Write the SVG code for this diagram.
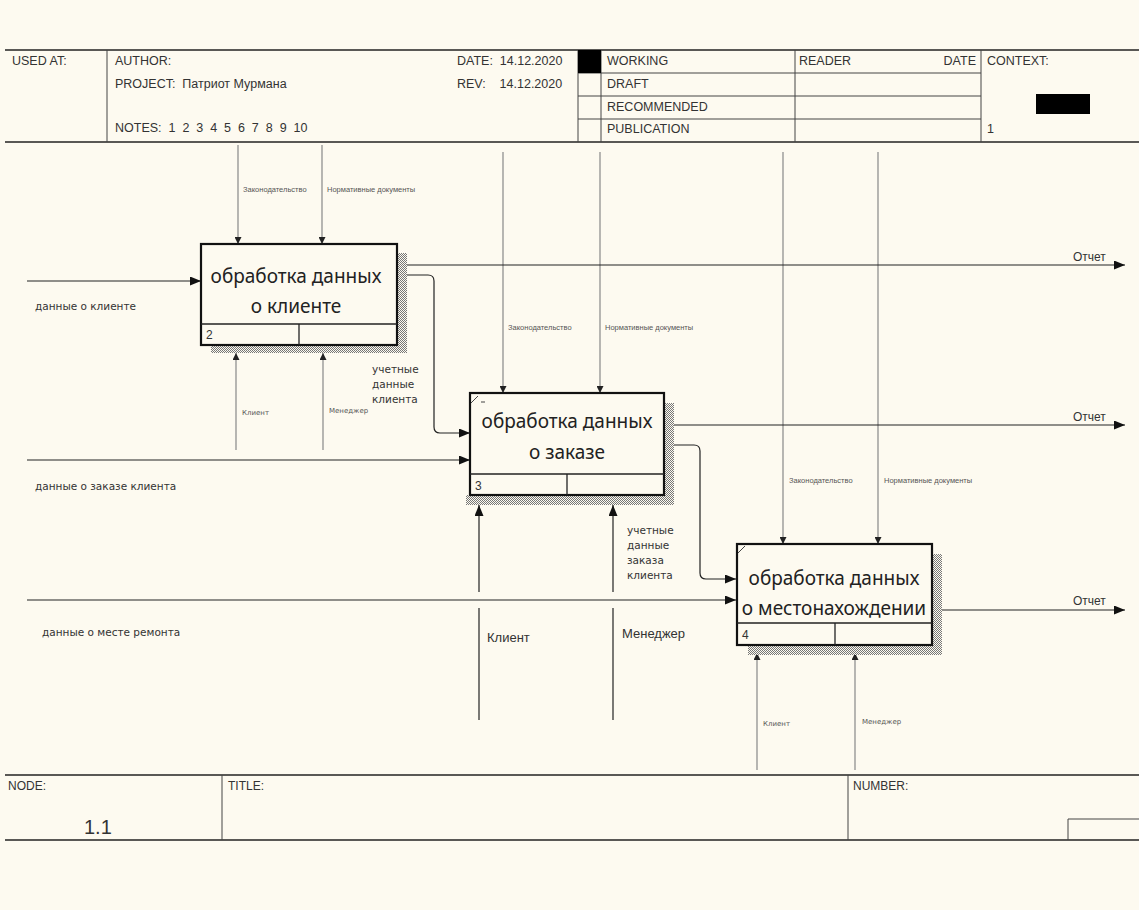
<svg xmlns="http://www.w3.org/2000/svg" width="1139" height="910" viewBox="0 0 1139 910">
  <style>
    .frame { stroke: #222; stroke-width: 1.3; fill: none; }
    .thin { stroke: #444; stroke-width: 1; fill: none; }
    .hdr { font-family: "Liberation Sans", Arial, sans-serif; font-size: 12.5px; fill: #333; white-space: pre; }
    .ftr { font-family: "Liberation Sans", Arial, sans-serif; font-size: 12px; fill: #333; }
    .big { font-family: "Liberation Sans", Arial, sans-serif; font-size: 20px; fill: #333; }
    .box { fill: #fdfaf0; stroke: #111; stroke-width: 2.2; }
    .title { font-family: "Noto Sans", "DejaVu Sans", sans-serif; font-size: 19px; fill: #222; text-anchor: middle; }
    .num { font-family: "Liberation Sans", Arial, sans-serif; font-size: 12px; fill: #333; }
    .flow { stroke: #222; stroke-width: 1.2; fill: none; }
    .ctl { stroke: #888; stroke-width: 1.2; fill: none; }
    .tiny { font-family: "Liberation Sans", Arial, sans-serif; font-size: 7.5px; fill: #555; }
    .tiny2 { font-family: "DejaVu Sans", Verdana, sans-serif; font-size: 7px; fill: #555; }
    .lbl { font-family: "DejaVu Sans", Verdana, sans-serif; font-size: 10.5px; fill: #333; }
    .mid { font-family: "Liberation Sans", Arial, sans-serif; font-size: 13px; fill: #333; }
    .out { font-family: "Liberation Sans", Arial, sans-serif; font-size: 12px; fill: #333; }
  </style>
  <defs>
    <pattern id="hatch" width="2" height="2" patternUnits="userSpaceOnUse">
      <rect width="2" height="2" fill="#fdfaf0"/>
      <rect width="1" height="1" fill="#777"/>
      <rect x="1" y="1" width="1" height="1" fill="#777"/>
    </pattern>
    <marker id="arr" markerUnits="userSpaceOnUse" markerWidth="11" markerHeight="9" refX="11" refY="4.5" orient="auto">
      <path d="M0,0 L11,4.5 L0,9 z" fill="#111"/>
    </marker>
    <marker id="arrS" markerUnits="userSpaceOnUse" markerWidth="7" markerHeight="7" refX="7" refY="3.5" orient="auto">
      <path d="M0,0 L7,3.5 L0,7 z" fill="#222"/>
    </marker>
  </defs>

  <rect width="1139" height="910" fill="#fdfaf0"/>

  <!-- header frame -->
  <g id="header">
    <line class="frame" x1="5" y1="50" x2="1139" y2="50"/>
    <line class="frame" x1="5" y1="142" x2="1139" y2="142"/>
    <line class="thin" x1="107" y1="50" x2="107" y2="142"/>
    <line class="thin" x1="578" y1="50" x2="578" y2="142"/>
    <line class="thin" x1="601" y1="50" x2="601" y2="142"/>
    <line class="thin" x1="795" y1="50" x2="795" y2="142"/>
    <line class="thin" x1="981" y1="50" x2="981" y2="142"/>
    <line class="thin" x1="578" y1="73" x2="981" y2="73"/>
    <line class="thin" x1="578" y1="96" x2="981" y2="96"/>
    <line class="thin" x1="578" y1="119" x2="981" y2="119"/>
    <rect x="578" y="50" width="23" height="23" fill="#000"/>
    <rect x="1036" y="94" width="54" height="20" fill="#000"/>
    <text class="hdr" x="12" y="65">USED AT:</text>
    <text class="hdr" x="115" y="65">AUTHOR:</text>
    <text class="hdr" x="115" y="88">PROJECT:  Патриот Мурмана</text>
    <text class="hdr" x="115" y="132">NOTES:  1  2  3  4  5  6  7  8  9  10</text>
    <text class="hdr" x="457" y="65">DATE:  14.12.2020</text>
    <text class="hdr" x="457" y="88">REV:    14.12.2020</text>
    <text class="hdr" x="607" y="65">WORKING</text>
    <text class="hdr" x="607" y="88">DRAFT</text>
    <text class="hdr" x="607" y="111">RECOMMENDED</text>
    <text class="hdr" x="607" y="133">PUBLICATION</text>
    <text class="hdr" x="799" y="65">READER</text>
    <text class="hdr" x="976" y="65" text-anchor="end">DATE</text>
    <text class="hdr" x="987" y="65">CONTEXT:</text>
    <text class="hdr" x="987" y="133">1</text>
  </g>

  <!-- footer frame -->
  <g id="footer">
    <line class="frame" x1="5" y1="775" x2="1139" y2="775"/>
    <line class="frame" x1="5" y1="840" x2="1139" y2="840"/>
    <line class="thin" x1="222" y1="775" x2="222" y2="840"/>
    <line class="thin" x1="848" y1="775" x2="848" y2="840"/>
    <polyline class="thin" points="1068,840 1068,819 1139,819"/>
    <text class="ftr" x="8" y="790">NODE:</text>
    <text class="ftr" x="228" y="790">TITLE:</text>
    <text class="ftr" x="853" y="790">NUMBER:</text>
    <text class="big" x="84" y="834">1.1</text>
  </g>

  <!-- connectors -->
  <g id="connectors">
    <!-- controls -->
    <line class="ctl" x1="238" y1="145" x2="238" y2="244" marker-end="url(#arrS)"/>
    <line class="ctl" x1="322" y1="145" x2="322" y2="244" marker-end="url(#arrS)"/>
    <line class="ctl" x1="503" y1="152" x2="503" y2="393" marker-end="url(#arrS)"/>
    <line class="ctl" x1="600" y1="152" x2="600" y2="393" marker-end="url(#arrS)"/>
    <line class="ctl" x1="783" y1="152" x2="783" y2="544" marker-end="url(#arrS)"/>
    <line class="ctl" x1="878" y1="152" x2="878" y2="544" marker-end="url(#arrS)"/>
    <text class="tiny" x="243" y="192">Законодательство</text>
    <text class="tiny" x="327" y="192">Нормативные документы</text>
    <text class="tiny" x="508" y="330">Законодательство</text>
    <text class="tiny" x="605" y="330">Нормативные документы</text>
    <text class="tiny" x="789" y="483">Законодательство</text>
    <text class="tiny" x="884" y="483">Нормативные документы</text>

    <!-- mechanisms -->
    <line class="ctl" x1="236" y1="450" x2="236" y2="353" marker-end="url(#arrS)"/>
    <line class="ctl" x1="323" y1="450" x2="323" y2="353" marker-end="url(#arrS)"/>
    <text class="tiny2" x="242" y="415">Клиент</text>
    <text class="tiny2" x="329" y="413">Менеджер</text>
    <line class="flow" x1="479" y1="720" x2="479" y2="608"/>
    <line class="flow" x1="479" y1="592" x2="479" y2="505" marker-end="url(#arr)"/>
    <line class="flow" x1="613" y1="720" x2="613" y2="608"/>
    <line class="flow" x1="613" y1="592" x2="613" y2="505" marker-end="url(#arr)"/>
    <text class="mid" x="487" y="642">Клиент</text>
    <text class="mid" x="622" y="638">Менеджер</text>
    <line class="ctl" x1="757" y1="770" x2="757" y2="653" marker-end="url(#arrS)"/>
    <line class="ctl" x1="855" y1="770" x2="855" y2="653" marker-end="url(#arrS)"/>
    <text class="tiny2" x="763" y="726">Клиент</text>
    <text class="tiny2" x="862" y="724">Менеджер</text>

    <!-- inputs -->
    <line class="flow" x1="27" y1="281" x2="201" y2="281" marker-end="url(#arr)"/>
    <line class="flow" x1="27" y1="460" x2="470" y2="460" marker-end="url(#arr)"/>
    <line class="flow" x1="27" y1="600" x2="736" y2="600" marker-end="url(#arr)"/>
    <text class="lbl" x="35" y="310">данные о клиенте</text>
    <text class="lbl" x="35" y="490">данные о заказе клиента</text>
    <text class="lbl" x="42" y="636">данные о месте ремонта</text>

    <!-- outputs -->
    <line class="flow" x1="397" y1="265" x2="1125" y2="265" marker-end="url(#arr)"/>
    <line class="flow" x1="664" y1="425" x2="1125" y2="425" marker-end="url(#arr)"/>
    <line class="flow" x1="932" y1="610" x2="1125" y2="610" marker-end="url(#arr)"/>
    <text class="out" x="1073" y="261">Отчет</text>
    <text class="out" x="1073" y="421">Отчет</text>
    <text class="out" x="1073" y="605">Отчет</text>

    <!-- feedback flows between activities -->
    <path class="flow" d="M397,275 H428 Q434,275 434,281 V427 Q434,433 440,433 H470" marker-end="url(#arr)"/>
    <path class="flow" d="M664,445 H694 Q700,445 700,451 V573 Q700,579 706,579 H736" marker-end="url(#arr)"/>
    <text class="lbl" x="372" y="373">учетные</text>
    <text class="lbl" x="372" y="388">данные</text>
    <text class="lbl" x="372" y="403">клиента</text>
    <text class="lbl" x="627" y="534">учетные</text>
    <text class="lbl" x="627" y="549">данные</text>
    <text class="lbl" x="627" y="564">заказа</text>
    <text class="lbl" x="627" y="579">клиента</text>
  </g>

  <!-- activity 2 -->
  <g id="node-2">
    <rect x="397" y="253" width="10" height="100" fill="url(#hatch)"/>
    <rect x="211" y="345" width="196" height="8" fill="url(#hatch)"/>
    <rect class="box" x="201" y="244" width="196" height="101"/>
    <line class="frame" x1="201" y1="324" x2="397" y2="324" stroke-width="2"/>
    <line class="frame" x1="299" y1="324" x2="299" y2="345" stroke-width="2"/>
    <text class="title" x="296" y="283">обработка данных</text>
    <text class="title" x="296" y="313">о клиенте</text>
    <text class="num" x="206" y="339">2</text>
  </g>

  <!-- activity 3 -->
  <g id="node-3">
    <rect x="664" y="403" width="10" height="102" fill="url(#hatch)"/>
    <rect x="466" y="495" width="208" height="10" fill="url(#hatch)"/>
    <rect class="box" x="470" y="393" width="194" height="102"/>
    <line class="frame" x1="470" y1="474" x2="664" y2="474" stroke-width="2"/>
    <line class="frame" x1="567" y1="474" x2="567" y2="495" stroke-width="2"/>
    <line class="thin" x1="471" y1="403" x2="478" y2="396" stroke="#111" stroke-width="1.5"/>
    <line class="thin" x1="481" y1="402" x2="485" y2="402" stroke="#111"/>
    <text class="title" x="567" y="428">обработка данных</text>
    <text class="title" x="567" y="459">о заказе</text>
    <text class="num" x="475" y="490">3</text>
  </g>

  <!-- activity 4 -->
  <g id="node-4">
    <rect x="932" y="554" width="10" height="101" fill="url(#hatch)"/>
    <rect x="748" y="645" width="194" height="10" fill="url(#hatch)"/>
    <rect class="box" x="737" y="544" width="195" height="101"/>
    <line class="frame" x1="737" y1="623" x2="932" y2="623" stroke-width="2"/>
    <line class="frame" x1="835" y1="623" x2="835" y2="645" stroke-width="2"/>
    <line class="thin" x1="738" y1="553" x2="745" y2="546" stroke="#111" stroke-width="1.5"/>
    <text class="title" x="834" y="585">обработка данных</text>
    <text class="title" x="834" y="615">о местонахождении</text>
    <text class="num" x="742" y="639">4</text>
  </g>
</svg>
